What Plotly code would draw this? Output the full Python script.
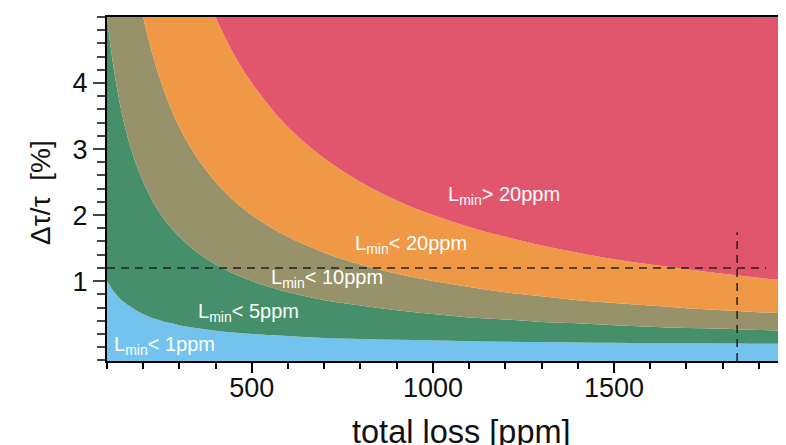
import plotly.graph_objects as go

# total loss [ppm] sample positions
total_loss = [100, 110, 120, 130, 140, 150, 165, 180, 200, 220, 240, 260, 280, 300, 330, 360,
              400, 450, 500, 550, 600, 700, 800, 900, 1000, 1100, 1200, 1300, 1400, 1500,
              1600, 1700, 1800, 1900, 1975]

# upper boundary (Δτ/τ in %) of each L_min band
bound_1ppm = [1.00, 0.91, 0.83, 0.77, 0.71, 0.67, 0.61, 0.56, 0.50, 0.45, 0.42, 0.38, 0.36, 0.33,
              0.30, 0.28, 0.25, 0.22, 0.20, 0.18, 0.17, 0.14, 0.125, 0.11, 0.10, 0.09, 0.083,
              0.077, 0.071, 0.067, 0.063, 0.059, 0.056, 0.053, 0.051]
bound_5ppm = [5.00, 4.55, 4.17, 3.85, 3.57, 3.33, 3.03, 2.78, 2.50, 2.27, 2.08, 1.92, 1.79, 1.67,
              1.52, 1.39, 1.25, 1.11, 1.00, 0.91, 0.83, 0.71, 0.63, 0.56, 0.50, 0.45, 0.42,
              0.38, 0.36, 0.33, 0.31, 0.29, 0.28, 0.26, 0.25]
bound_10ppm = [10.0, 9.09, 8.33, 7.69, 7.14, 6.67, 6.06, 5.56, 5.00, 4.55, 4.17, 3.85, 3.57, 3.33,
               3.03, 2.78, 2.50, 2.22, 2.00, 1.82, 1.67, 1.43, 1.25, 1.11, 1.00, 0.91, 0.83,
               0.77, 0.71, 0.67, 0.63, 0.59, 0.56, 0.53, 0.51]
bound_20ppm = [20.0, 18.2, 16.7, 15.4, 14.3, 13.3, 12.1, 11.1, 10.0, 9.09, 8.33, 7.69, 7.14, 6.67,
               6.06, 5.56, 5.00, 4.44, 4.00, 3.64, 3.33, 2.86, 2.50, 2.22, 2.00, 1.82, 1.67,
               1.54, 1.43, 1.33, 1.25, 1.18, 1.11, 1.05, 1.01]
bound_top = [30.0] * len(total_loss)

band_colors = ["#74C3EE", "#45906A", "#98926B", "#EF9845", "#E2566D"]

# region labels
label_texts = ["L<sub>min</sub>< 1ppm", "L<sub>min</sub>< 5ppm", "L<sub>min</sub>< 10ppm",
               "L<sub>min</sub>< 20ppm", "L<sub>min</sub>> 20ppm"]
label_x = [113, 347, 548, 779, 1035]
label_y = [0.03, 0.52, 1.04, 1.55, 2.30]

# dashed guide lines
guide_h_x = [100, 1920]
guide_h_y = [1.2, 1.2]
guide_v_x = [1840, 1840]
guide_v_y = [-0.21, 1.74]

x_ticks = [500, 1000, 1500]
y_ticks = [1, 2, 3, 4]

FONT = "Liberation Sans, Arial, Helvetica, sans-serif"

fig = go.Figure()

bounds = [bound_1ppm, bound_5ppm, bound_10ppm, bound_20ppm, bound_top]
fig.add_trace(go.Scatter(x=total_loss, y=[-1.0] * len(total_loss), mode="lines",
                         line=dict(width=0), hoverinfo="skip", showlegend=False))
for b, c in zip(bounds, band_colors):
    fig.add_trace(go.Scatter(x=total_loss, y=b, mode="lines", fill="tonexty",
                             fillcolor=c, line=dict(width=0, shape="spline", color=c),
                             hoverinfo="skip", showlegend=False))

fig.add_trace(go.Scatter(x=guide_h_x, y=guide_h_y, mode="lines",
                         line=dict(color="#222", width=1.5, dash="8px,6px"),
                         showlegend=False, hoverinfo="skip"))
fig.add_trace(go.Scatter(x=guide_v_x, y=guide_v_y, mode="lines",
                         line=dict(color="#222", width=1.5, dash="8px,6px"),
                         showlegend=False, hoverinfo="skip"))

for t, lx, ly in zip(label_texts, label_x, label_y):
    fig.add_annotation(x=lx, y=ly, text=t, showarrow=False, xanchor="left", yanchor="middle",
                       font=dict(family=FONT, size=20, color="white"))

# axis titles as annotations for exact placement
fig.add_annotation(xref="paper", yref="paper", x=0.522, y=-0.206, text="total loss [ppm]",
                   showarrow=False, xanchor="center", yanchor="middle",
                   font=dict(family=FONT, size=32.5, color="#111"))
fig.add_annotation(xref="paper", yref="paper", x=-0.098, y=0.49, text="Δτ/τ  [%]",
                   textangle=-90, showarrow=False, xanchor="center", yanchor="middle",
                   font=dict(family=FONT, size=28, color="#111"))

# the page body adds an 8px offset; the figure is sized to fill the rest of the window
fig.update_layout(
    width=778, height=437,
    margin=dict(l=99, r=0, t=9, b=84, autoexpand=False),
    paper_bgcolor="white", plot_bgcolor="white",
    font=dict(family=FONT, color="black"),
    xaxis=dict(
        range=[100, 1975], tickvals=x_ticks, ticks="outside", ticklen=10, tickwidth=2,
        tickcolor="black", showline=True, linecolor="black", linewidth=2, mirror=True,
        showgrid=False, zeroline=False, tickfont=dict(size=27, color="#111"),
        automargin=False, ticklabelstandoff=-8,
        minor=dict(tickmode="linear", tick0=0, dtick=100, ticks="outside", ticklen=6,
                   tickwidth=2, tickcolor="black", showgrid=False),
    ),
    yaxis=dict(
        range=[-0.21, 5], tickvals=y_ticks, ticks="outside", ticklen=12, tickwidth=2,
        tickcolor="#444", showline=True, linecolor="black", linewidth=2,
        showgrid=False, zeroline=False, tickfont=dict(size=27, color="#111"),
        automargin=False,
        minor=dict(tickmode="linear", tick0=0, dtick=0.2, ticks="outside", ticklen=8,
                   tickwidth=2, tickcolor="#444", showgrid=False),
    ),
)

fig.write_html("out.html")
